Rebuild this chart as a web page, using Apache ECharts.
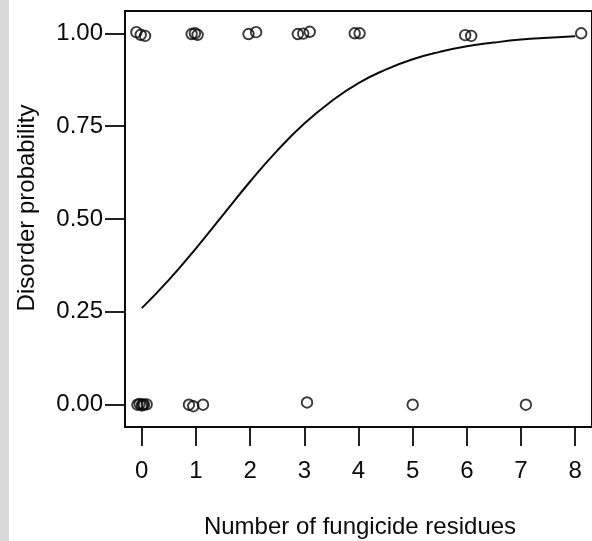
<!DOCTYPE html>
<html>
<head>
<meta charset="utf-8">
<script src="https://cdn.jsdelivr.net/npm/echarts@6/dist/echarts.min.js"></script>
<style>
html,body{margin:0;padding:0;background:#fff;}
#c{width:592px;height:541px;}
</style>
</head>
<body>
<div id="c"></div>
<script>
// Tick values
const xTicks = [0, 1, 2, 3, 4, 5, 6, 7, 8];
const yTicks = [0, 0.25, 0.5, 0.75, 1];
// Observations with disorder (jittered, y ~ 1)
const posX = [-0.10, -0.02, 0.06, 0.92, 0.98, 1.03, 1.97, 2.11, 2.88, 2.98, 3.10, 3.93, 4.02, 5.97, 6.08, 8.11];
const posY = [1.003, 0.996, 0.993, 0.998, 1.000, 0.996, 0.998, 1.003, 0.998, 0.999, 1.004, 1.000, 1.000, 0.995, 0.993, 1.000];
// Observations without disorder (jittered, y ~ 0)
const negX = [-0.08, -0.04, 0.00, 0.02, 0.04, 0.09, 0.87, 0.95, 1.13, 3.05, 5.00, 7.09];
const negY = [0.000, 0.002, -0.002, 0.001, 0.000, 0.001, 0.000, -0.004, 0.000, 0.006, 0.000, 0.000];
// Fitted curve
const curveX = [0, 0.5, 1, 1.5, 2, 2.5, 3, 3.5, 4, 4.5, 5, 5.5, 6, 6.5, 7, 7.5, 8];
const curveP = [0.26, 0.336, 0.421, 0.511, 0.601, 0.684, 0.757, 0.817, 0.866, 0.902, 0.930, 0.950, 0.965, 0.975, 0.983, 0.988, 0.992];

const xLabel = 'Number of fungicide residues';
const yLabel = 'Disorder probability';

const zip = (a, b) => a.map((v, i) => [v, b[i]]);
const font = 'Liberation Sans, Arial, sans-serif';
const ink = '#0a0a0a';

const chart = echarts.init(document.getElementById('c'), null, {renderer: 'canvas'});
chart.setOption({
  animation: false,
  backgroundColor: '#fff',
  grid: {
    left: 125, top: 11, width: 474, height: 416,
    show: true, borderColor: ink, borderWidth: 2, backgroundColor: 'transparent',
    containLabel: false
  },
  xAxis: {
    type: 'value', min: -0.31, max: 8.31,
    axisLine: {show: false, onZero: false},
    splitLine: {show: false},
    axisTick: {show: true, inside: false, length: 19, lineStyle: {color: ink, width: 1.8}, customValues: xTicks},
    axisLabel: {
      show: true, margin: 32, color: ink, fontSize: 24, fontFamily: font,
      customValues: xTicks, formatter: v => String(v)
    }
  },
  yAxis: {
    type: 'value', min: -0.06, max: 1.06,
    axisLine: {show: false, onZero: false},
    splitLine: {show: false},
    axisTick: {show: true, inside: false, length: 20, lineStyle: {color: ink, width: 1.8}, customValues: yTicks},
    axisLabel: {
      show: true, margin: 22, color: ink, fontSize: 24, fontFamily: font,
      customValues: yTicks, formatter: v => v.toFixed(2)
    }
  },
  graphic: [
    {type: 'rect', left: 0, top: 0, shape: {width: 9, height: 541}, style: {fill: '#d9d9d9'}, silent: true},
    {type: 'text', x: 360, y: 527, style: {text: xLabel, fill: ink, font: '24px ' + font, textAlign: 'center', textVerticalAlign: 'middle'}},
    {type: 'text', x: 27, y: 208, rotation: Math.PI / 2, style: {text: yLabel, fill: ink, font: '24px ' + font, textAlign: 'center', textVerticalAlign: 'middle'}}
  ],
  series: [
    {
      type: 'line', data: zip(curveX, curveP), smooth: true, symbol: 'none',
      lineStyle: {color: ink, width: 2}, clip: false
    },
    {
      type: 'scatter', data: zip(posX, posY), symbol: 'circle', symbolSize: 10.5,
      itemStyle: {color: 'rgba(0,0,0,0)', borderColor: ink, borderWidth: 1.9}, clip: false
    },
    {
      type: 'scatter', data: zip(negX, negY), symbol: 'circle', symbolSize: 10.5,
      itemStyle: {color: 'rgba(0,0,0,0)', borderColor: ink, borderWidth: 1.9}, clip: false
    }
  ]
});
</script>
</body>
</html>
